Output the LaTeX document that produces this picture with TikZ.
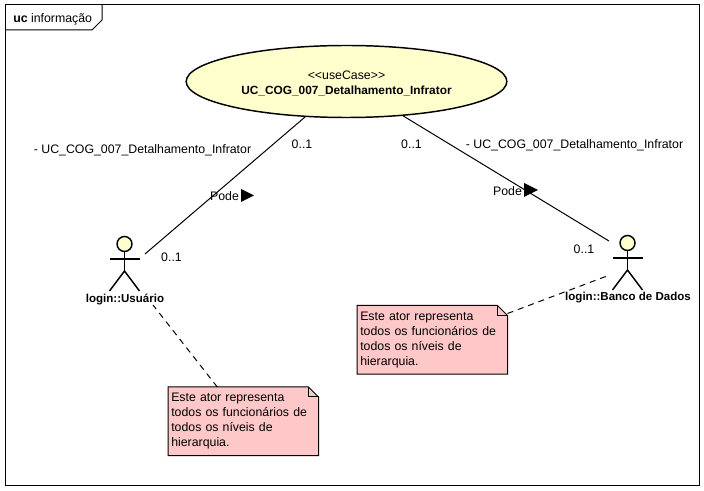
\documentclass[tikz,border=0pt]{standalone}
\usepackage{fontspec}
\setmainfont{Liberation Sans}
\usepackage{tikz}
\usetikzlibrary{positioning, shapes.geometric, backgrounds, calc}
\definecolor{CaseYellow}{RGB}{255, 255, 206}
\definecolor{NotePink}{RGB}{255, 200, 200}
\tikzset{
  label text/.style={font=\fontsize{9.25pt}{10pt}\selectfont, inner sep=0pt},
  actor name/.style={font=\fontsize{8.65pt}{10pt}\selectfont\bfseries, inner sep=0pt},
  notebox/.style={font=\fontsize{9.25pt}{11.25pt}\selectfont, inner sep=0pt, anchor=north west,
    minimum width=112.5pt, minimum height=51pt, align=left, text width=108pt},
  notefold/.style={draw=black, fill=NotePink, line width=0.75pt},
  association/.style={line width=0.75pt},
  noteline/.style={line width=0.75pt, dash pattern=on 4.5pt off 3.75pt}
}
% stick figure with its head at (#1,#2)
\newcommand{\stickactor}[2]{
  \draw[line width=1.1pt, fill=CaseYellow] (#1,#2) circle (7.5);
  \draw[line width=1.1pt] (#1,#2+7.5) -- (#1,#2+27);
  \draw[line width=1.1pt] (#1-15,#2+15) -- (#1+15,#2+15);
  \draw[line width=1.1pt] (#1-15,#2+47) -- (#1,#2+27) -- (#1+15,#2+47);
}
% fold of a note
\newcommand{\notefold}[1]{
  \begin{pgfonlayer}{background}
    \draw[notefold] (#1.south west) -- (#1.north west) -- ($(#1.north east)+(-10,0)$)
      -- ($(#1.north east)+(0,10)$) -- (#1.south east) -- cycle;
  \end{pgfonlayer}
  \draw[line width=0.75pt] ($(#1.north east)+(-10,0)$) -- ($(#1.north east)+(-10,10)$) -- ($(#1.north east)+(0,10)$);
}
\begin{document}
\begin{tikzpicture}[x=0.75pt, y=-0.75pt]
    \useasboundingbox (0, 0) rectangle (704, 491);

    % Frame
    \draw[line width=0.75pt] (5, 5) rectangle (699, 486);
    \draw[line width=0.75pt] (102, 5) -- (102, 20) -- (92, 30) -- (5, 30);
    \node[label text, anchor=west] (frametitle) at (13, 19) {\textbf{uc} informação};

    % Use case
    \node[draw, ellipse, fill=CaseYellow, line width=1.1pt, minimum width=240.5pt, minimum height=54pt, inner sep=0pt,
      align=center, font=\fontsize{9.25pt}{11.25pt}\selectfont] (usecase) at (346.5, 81.5)
      {\\[-2pt]<{}<useCase>{}>\\ \fontsize{8.9pt}{11.25pt}\selectfont\textbf{UC\_COG\_007\_Detalhamento\_Infrator}};

    % Actors
    \stickactor{124.5}{244}
    \node[actor name] (usuario) at (125, 299.5) {login::Usuário};
    \stickactor{627.5}{243}
    \node[actor name] (banco) at (628, 297.5) {login::Banco de Dados};

    % Associations
    \coordinate (usuarioEnd) at (145, 254);
    \coordinate (bancoEnd) at (609, 241);
    \draw[association] (usecase) -- (usuarioEnd);
    \draw[association] (usecase) -- (bancoEnd);

    % Association labels
    \node[label text] (roleU) at (142.5, 150.5) {- UC\_COG\_007\_Detalhamento\_Infrator};
    \node[label text] (multUa) at (302, 144.5) {0..1};
    \node[label text] (multUb) at (171.5, 257) {0..1};
    \node[label text] (podeU) at (224.5, 196) {Pode};
    \fill (241, 189) -- (254, 195.5) -- (241, 202) -- cycle;
    \node[label text] (roleB) at (574.5, 145.5) {- UC\_COG\_007\_Detalhamento\_Infrator};
    \node[label text] (multBa) at (411.5, 144) {0..1};
    \node[label text] (multBb) at (584, 249) {0..1};
    \node[label text] (podeB) at (507.5, 191) {Pode};
    \fill (524, 183) -- (538, 190) -- (524, 197) -- cycle;

    % Notes
    \node[notebox] (notaU) at (168, 387) {Este ator representa\\todos os funcionários de\\todos os níveis de\\hierarquia.};
    \notefold{notaU}
    \node[notebox] (notaB) at (357, 305.5) {Este ator representa\\todos os funcionários de\\todos os níveis de\\hierarquia.};
    \notefold{notaB}
    \coordinate (usuarioNote) at (153, 305);
    \coordinate (bancoNote) at (607, 276);
    \draw[noteline] (notaU.north) ++(-26, 0) coordinate (notaUTop) -- (usuarioNote);
    \draw[noteline] (notaB.north east) ++(0, 8) coordinate (notaBSide) -- (bancoNote);
  \end{tikzpicture}
\end{document}
